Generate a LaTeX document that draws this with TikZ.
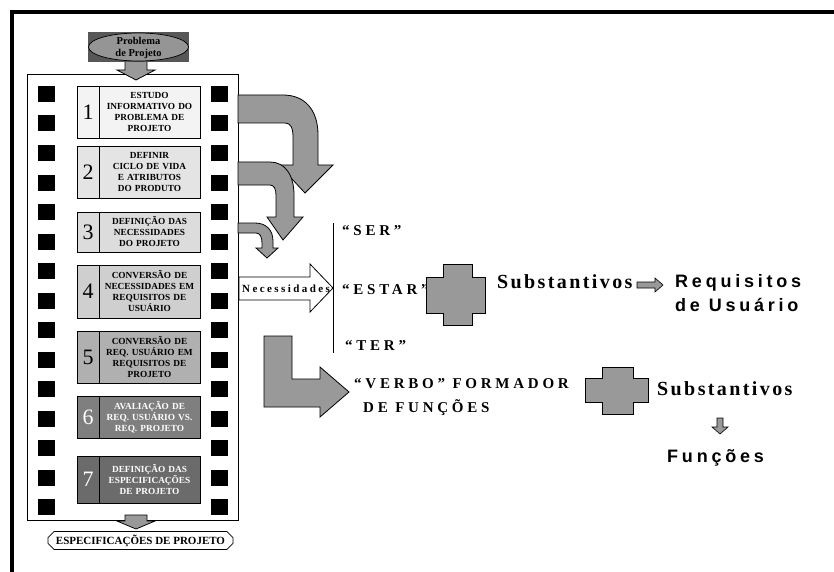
\documentclass[tikz,border=0pt]{standalone}
\usepackage{fontspec}
\setmainfont{Liberation Serif}
\newfontfamily\sansfam{Liberation Sans}
\newfontfamily\trackA[LetterSpace=25]{Liberation Serif}
\newfontfamily\trackB[LetterSpace=12]{Liberation Serif}
\newfontfamily\trackC[LetterSpace=22]{Liberation Serif}
\newfontfamily\trackS[LetterSpace=21]{Liberation Sans}
\usetikzlibrary{shapes.geometric,shapes.misc}
\definecolor{blockgray}{HTML}{999999}
\definecolor{boxA}{HTML}{F3F3F3}
\definecolor{boxB}{HTML}{E4E4E4}
\definecolor{boxC}{HTML}{DCDCDC}
\definecolor{boxD}{HTML}{CFCFCF}
\definecolor{boxE}{HTML}{B0B0B0}
\definecolor{boxF}{HTML}{7F7F7F}
\definecolor{boxG}{HTML}{6B6B6B}
\definecolor{probdark}{HTML}{575757}
\definecolor{problight}{HTML}{959595}
\tikzset{
  outline/.style={draw=black, line width=0.8pt},
  blockarrow/.style={outline, fill=blockgray},
  stepbox/.style={outline, minimum width=123pt, inner sep=0pt},
  steptext/.style={font=\fontsize{9.3}{11}\selectfont\bfseries, align=center, text width=106pt, inner sep=0pt},
  stepnum/.style={font=\fontsize{22}{22}\selectfont, inner sep=0pt},
  wordA/.style={font=\trackA\bfseries\fontsize{15}{17}\selectfont, anchor=base west, inner sep=0pt},
  wordB/.style={font=\trackB\bfseries\fontsize{20}{22}\selectfont, anchor=base west, inner sep=0pt},
  wordS/.style={font=\trackS\bfseries\fontsize{18}{20}\selectfont, anchor=base west, inner sep=0pt},
}
\newcommand\StepBox[7]{%
  \node[stepbox, fill=#4, minimum height={#3-#2}] (#1) at (138.5,{(#2+#3)/2}) {};
  \draw[outline] (99,#2) -- (99,#3);
  \node[stepnum, text=#5] (#1num) at (88,{(#2+#3)/2}) {#6};
  \node[steptext, text=#5] (#1txt) at (149.5,{(#2+#3)/2}) {#7};
}
\begin{document}
\begin{tikzpicture}[x=1pt,y=-1pt]
\useasboundingbox (0,0) rectangle (834,572);
\fill[white] (0,0) rectangle (834,572);
% frame
\draw[line width=4pt] (12,572) -- (12,12) -- (834,12);
% film strip
\node[outline, fill=white, minimum width=211pt, minimum height=446pt, inner sep=0pt] (film) at (132.5,297) {};
\foreach \i in {0,...,14}{
  \fill (38,{86+29.5*\i}) rectangle ++(17,16);
  \fill (211,{86+29.5*\i}) rectangle ++(17,16);
}
% steps
\StepBox{s1}{86}{138}{boxA}{black}{1}{ESTUDO\\INFORMATIVO DO\\PROBLEMA DE\\PROJETO}
\StepBox{s2}{146}{198}{boxB}{black}{2}{DEFINIR\\CICLO DE VIDA\\E ATRIBUTOS\\DO PRODUTO}
\StepBox{s3}{212}{252}{boxC}{black}{3}{DEFINIÇÃO DAS\\NECESSIDADES\\DO PROJETO}
\StepBox{s4}{265}{318}{boxD}{black}{4}{CONVERSÃO DE\\NECESSIDADES EM\\REQUISITOS DE\\USUÁRIO}
\StepBox{s5}{331}{383}{boxE}{black}{5}{CONVERSÃO DE\\REQ. USUÁRIO EM\\REQUISITOS DE\\PROJETO}
\StepBox{s6}{396}{438}{boxF}{white}{6}{AVALIAÇÃO DE\\REQ. USUÁRIO VS.\\REQ. PROJETO}
\StepBox{s7}{456}{503}{boxG}{white}{7}{DEFINIÇÃO DAS\\ESPECIFICAÇÕES\\DE PROJETO}
% top: problem
\draw[blockarrow] (125,60) -- (147,60) -- (147,70) -- (155,70) -- (136,80) -- (117,70) -- (125,70) -- cycle;
\node[fill=probdark, minimum width=101pt, minimum height=30pt, inner sep=0pt] (probbg) at (138.5,47) {};
\node[ellipse, draw=black, line width=0.7pt, fill=problight, minimum width=100pt, minimum height=28pt, inner sep=0pt] (prob) at (138.5,47) {};
\node[font=\bfseries\fontsize{10.5}{12}\selectfont, align=center, inner sep=0pt] (probtxt) at (138.5,47.5) {Problema\\de Projeto};
% bottom: specifications
\draw[blockarrow] (125,515) -- (147,515) -- (147,521) -- (155,521) -- (136,529) -- (117,521) -- (125,521) -- cycle;
\node[chamfered rectangle, chamfered rectangle xsep=3pt, draw=black, line width=0.7pt, fill=white, minimum width=185pt, minimum height=17pt, inner sep=0pt, font=\bfseries\fontsize{11}{12}\selectfont] (spec) at (140.5,540.5) {ESPECIFICAÇÕES DE PROJETO};
% curved arrows
\draw[blockarrow] (238,95) -- (283,95) .. controls (305,95) and (318,110) .. (318,135) -- (318,165) -- (333,165) -- (305,193) -- (279,165) -- (293,165) -- (293,138) .. controls (293,128) and (291,123) .. (285,123) -- (238,123) -- cycle;
\draw[blockarrow] (238,162) -- (270,162) .. controls (285,162) and (294,175) .. (294,195) -- (294,217) -- (303,217) -- (283,240) -- (267,217) -- (276,217) -- (276,195) .. controls (276,189) and (274,185) .. (270,185) -- (238,185) -- cycle;
\draw[blockarrow] (238,223) -- (255,223) .. controls (266,223) and (273,230) .. (273,241) -- (273,248) -- (278,248) -- (267,258) -- (256,248) -- (262,248) -- (262,243) .. controls (262,237) and (260,233) .. (256,233) -- (238,233) -- cycle;
% vertical line
\coordinate (vtop) at (333,223);
\coordinate (vbot) at (333,353);
\draw[line width=0.8pt] (vtop) -- (vbot);
% necessidades arrow
\draw[outline, fill=white] (239,277) -- (310,277) -- (310,264) -- (333,288) -- (310,312) -- (310,300) -- (239,300) -- cycle;
\node[font=\trackC\bfseries\fontsize{11}{12}\selectfont, anchor=base west, inner sep=0pt] (need) at (242,292) {Necessidades};
% words
\node[wordA] (ser) at (342,235) {“SER”};
\node[wordA] (estar) at (342,294) {“ESTAR”};
\node[wordA] (ter) at (345,350) {“TER”};
% cross 1
\draw[blockarrow] (443,264) -- (472,264) -- (472,277) -- (485,277) -- (485,313) -- (472,313) -- (472,325) -- (443,325) -- (443,313) -- (426,313) -- (426,277) -- (443,277) -- cycle;
\node[wordB] (subst1) at (497,288) {Substantivos};
\draw[blockarrow, line width=0.6pt] (637,282) -- (655,282) -- (655,278) -- (663,285) -- (655,292) -- (655,288) -- (637,288) -- cycle;
\node[wordS] (req1) at (675,287) {Requisitos};
\node[wordS] (req2) at (675,311) {de Usuário};
% L arrow
\draw[blockarrow] (264,336) -- (292,336) -- (292,379) -- (320,379) -- (320,367) -- (349,392) -- (320,417) -- (320,407) -- (264,407) -- cycle;
\node[wordA] (verbo1) at (354,388) {“VERBO” FORMADOR};
\node[wordA] (verbo2) at (363,412) {DE FUNÇÕES};
% cross 2
\draw[blockarrow] (602,367) -- (633,367) -- (633,378) -- (648,378) -- (648,402) -- (633,402) -- (633,414) -- (602,414) -- (602,402) -- (585,402) -- (585,378) -- (602,378) -- cycle;
\node[wordB] (subst2) at (657,395) {Substantivos};
\draw[blockarrow, line width=0.6pt] (717,418) -- (723,418) -- (723,427) -- (728,427) -- (720,434) -- (712,427) -- (717,427) -- cycle;
\node[wordS] (func) at (667,462) {Funções};
\end{tikzpicture}
\end{document}
